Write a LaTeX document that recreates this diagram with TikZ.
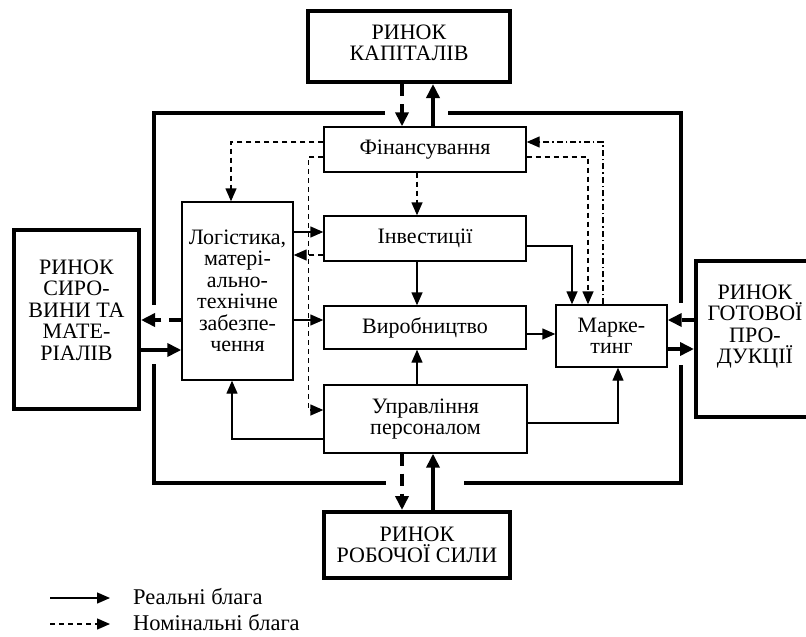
\documentclass[tikz,border=0pt]{standalone}
\usepackage{fontspec}
\setmainfont{Liberation Serif}
\usetikzlibrary{arrows.meta,calc}

\begin{document}
\begin{tikzpicture}[x=1pt,y=-1pt,
  every node/.style={font=\fontsize{22}{21.5}\selectfont, align=center, inner sep=0pt},
  unit/.style={draw, line width=1.4pt},
  market/.style={draw, line width=4pt},
  frameline/.style={line width=4pt, line join=miter},
  flow/.style={line width=1.4pt, -{Triangle[length=13pt,width=11pt]}},
  money/.style={flow, dash pattern=on 5pt off 4pt},
  dashdot/.style={line width=1.4pt, dash pattern=on 6pt off 3pt on 1.5pt off 3pt,
                  -{Triangle[length=13pt,width=11pt]}},
  bigflow/.style={line width=4pt, -{Triangle[length=14pt,width=13pt]}},
  bigmoney/.style={bigflow, dash pattern=on 12pt off 8pt},
  legendtext/.style={anchor=base west, align=left, font=\fontsize{22.5}{22.5}\selectfont}]

\useasboundingbox (0,0) rectangle (806,637);

% outer frame of the enterprise, with gaps for the market flows
\draw[frameline] (385,113) -- (154,113) -- (154,305);
\draw[frameline] (448,113) -- (681,113) -- (681,303);
\draw[frameline] (154,364) -- (154,483) -- (386,483);
\draw[frameline] (681,365) -- (681,483) -- (464,483);

% markets
\node[market, minimum width=202pt, minimum height=71pt] (rk) at (409,46.5) {};
\node (rkt) at (409,43) {РИНОК\\КАПІТАЛІВ};
\node[market, minimum width=125pt, minimum height=179pt] (sm) at (76.5,319.5) {};
\node (smt) at (76.5,310) {РИНОК\\СИРО-\\ВИНИ ТА\\МАТЕ-\\РІАЛІВ};
\begin{scope}
  \clip (0,0) rectangle (806,637);
  \node[market, minimum width=118pt, minimum height=156pt] (gp) at (755,339) {};
\end{scope}
\node (gpt) at (755,326.5) {РИНОК\\ГОТОВОЇ\\ПРО-\\ДУКЦІЇ};
\node[market, minimum width=186pt, minimum height=66pt] (rs) at (417,545) {РИНОК\\РОБОЧОЇ СИЛИ};

% functional units
\node[unit, minimum width=202pt, minimum height=45pt] (fin) at (425,149.5) {Фінансування};
\node[unit, minimum width=202pt, minimum height=45pt] (inv) at (425,238.5) {Інвестиції};
\node[unit, minimum width=202pt, minimum height=43pt] (vyr) at (425,327.5) {Виробництво};
\node[unit, minimum width=111pt, minimum height=62pt] (mkt) at (611.5,336) {Марке-\\тинг};
\node[unit, minimum width=203pt, minimum height=68pt] (upr) at (425.5,419) {Управління\\персоналом};
\node[unit, minimum width=111pt, minimum height=178pt] (log) at (237.5,291)
  {Логістика,\\матері-\\ально-\\технічне\\забезпе-\\чення};

% flows across the frame
\draw[bigmoney] (rk.south -| 402,0) -- (fin.north -| 402,0);
\draw[bigflow]  (fin.north -| 433,0) -- (rk.south -| 433,0);
\draw[bigmoney] (upr.south -| 402,0) -- (rs.north -| 402,0);
\draw[bigflow]  (rs.north -| 433,0) -- (upr.south -| 433,0);
\draw[bigmoney] (log.west |- 0,320) -- (sm.east |- 0,320);
\draw[bigflow]  (sm.east |- 0,350) -- (log.west |- 0,350);
\draw[bigmoney] (gp.west |- 0,320) -- (mkt.east |- 0,320);
\draw[bigflow]  (mkt.east |- 0,349) -- (gp.west |- 0,349);

% internal flows
\draw[money] (fin.west |- 0,142) -| (log.north -| 231,0);
\draw[money] (fin.west |- 0,157) -| ([xshift=-15pt]upr.west |- 0,410) -- (upr.west |- 0,410);
\draw[money] (fin.south -| 417,0) -- (inv.north -| 417,0);
\draw[money] (inv.west |- 0,255) -- (log.east |- 0,255);
\draw[flow]  (log.east |- 0,232) -- (inv.west |- 0,232);
\draw[flow]  (log.east |- 0,320) -- (vyr.west |- 0,320);
\draw[flow]  (inv.south -| 417,0) -- (vyr.north -| 417,0);
\draw[flow]  (upr.north -| 417,0) -- (vyr.south -| 417,0);
\draw[flow]  (vyr.east |- 0,334) -- (mkt.west |- 0,334);
\draw[flow]  (inv.east |- 0,246) -| (mkt.north -| 572,0);
\draw[money] (fin.east |- 0,157) -| (mkt.north -| 588,0);
\draw[dashdot] (mkt.north -| 603,0) |- (fin.east |- 0,142);
\draw[flow]  (upr.west |- 0,439) -| (log.south -| 232,0);
\draw[flow]  (upr.east |- 0,423) -| (mkt.south -| 618,0);

% legend
\coordinate (lr0) at (50,598);
\coordinate (lr1) at (110,598);
\coordinate (ln0) at (50,624);
\coordinate (ln1) at (110,624);
\draw[flow]  (lr0) -- (lr1);
\draw[money] (ln0) -- (ln1);
\node[legendtext] (lrt) at (133,604) {Реальні блага};
\node[legendtext] (lnt) at (133,630) {Номінальні блага};
\end{tikzpicture}
\end{document}
